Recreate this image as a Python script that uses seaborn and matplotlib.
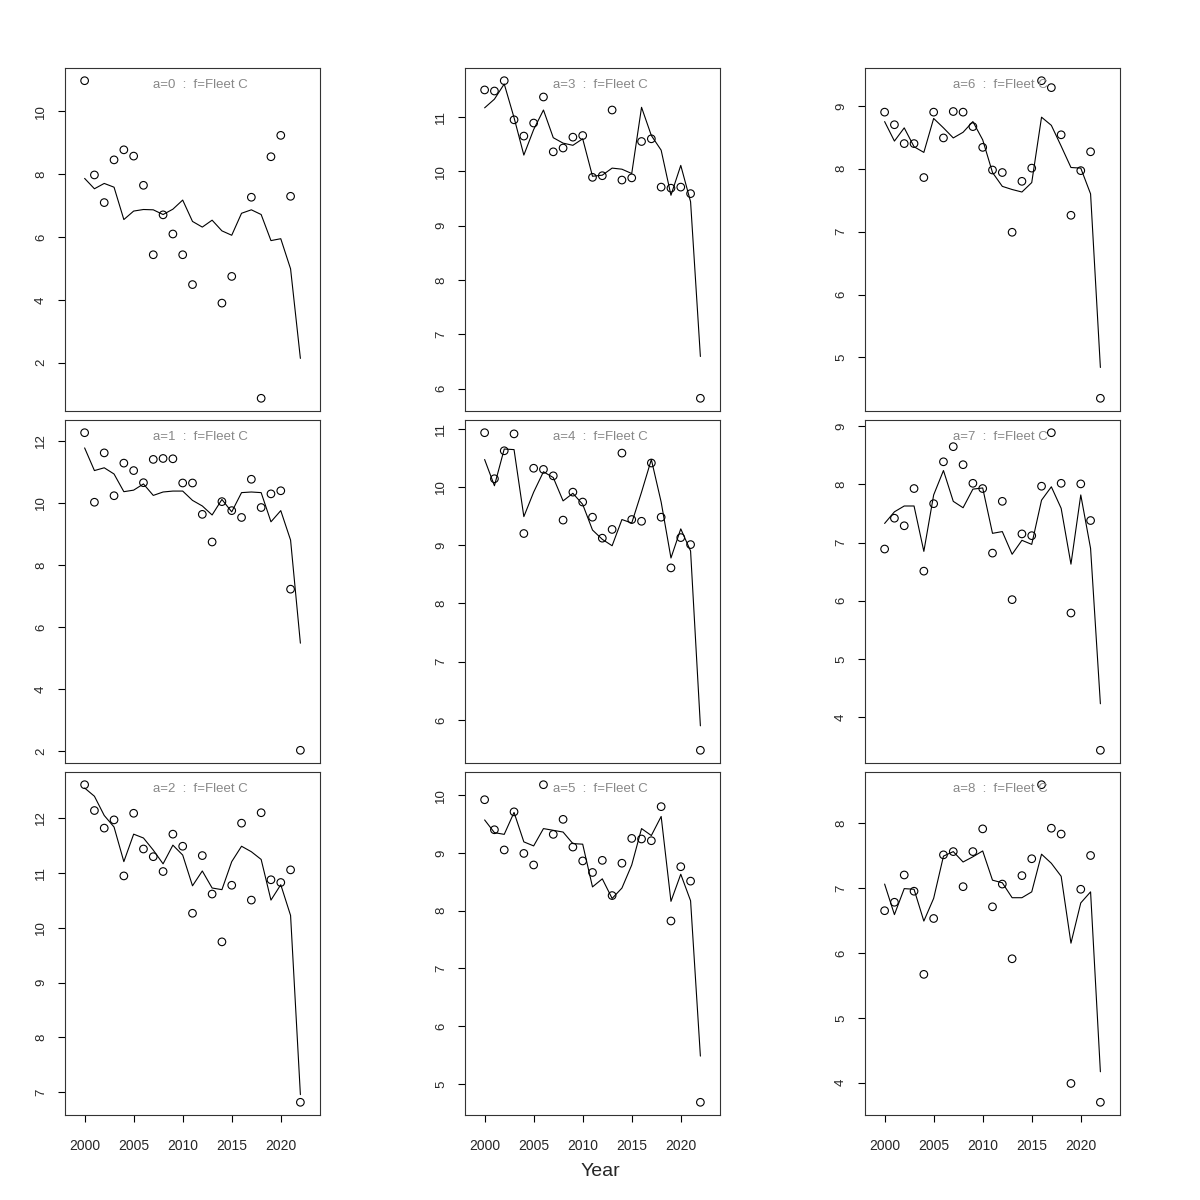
import numpy as np
import pandas as pd
import matplotlib
matplotlib.use("Agg")
import matplotlib.pyplot as plt
import seaborn as sns

sns.set_style("white")
plt.rcParams['font.family'] = ['Liberation Sans', 'DejaVu Sans']

years = list(range(2000, 2023))
nan = np.nan

obs_a0 = [10.98, 7.98, 7.10, 8.46, 8.78, 8.58, 7.65, 5.44, 6.71, 6.10, 5.44, 4.49, nan, nan,
          3.90, 4.75, nan, 7.27, 0.87, 8.56, 9.24, 7.30, nan]
fit_a0 = [7.87, 7.54, 7.71, 7.59, 6.56, 6.83, 6.88, 6.87, 6.72, 6.89, 7.18, 6.50, 6.32, 6.54,
          6.20, 6.06, 6.76, 6.87, 6.72, 5.89, 5.95, 4.99, 2.14]

obs_a1 = [12.26, 10.02, 11.61, 10.23, 11.28, 11.04, 10.65, 11.40, 11.43, 11.42, 10.64, 10.64,
          9.63, 8.74, 10.04, 9.75, 9.53, 10.76, 9.85, 10.29, 10.39, 7.22, 2.03]
fit_a1 = [11.77, 11.04, 11.13, 10.93, 10.36, 10.41, 10.61, 10.24, 10.35, 10.38, 10.38, 10.08,
          9.90, 9.61, 10.11, 9.71, 10.33, 10.35, 10.33, 9.39, 9.75, 8.80, 5.48]

obs_a2 = [12.60, 12.13, 11.81, 11.96, 10.94, 12.08, 11.43, 11.29, 11.02, 11.70, 11.48, 10.26,
          11.31, 10.61, 9.74, 10.77, 11.90, 10.50, 12.09, 10.87, 10.82, 11.05, 6.82]
fit_a2 = [12.54, 12.39, 12.04, 11.83, 11.20, 11.70, 11.63, 11.41, 11.16, 11.50, 11.32, 10.76,
          11.03, 10.72, 10.69, 11.20, 11.48, 11.38, 11.24, 10.50, 10.78, 10.22, 6.96]

obs_a3 = [11.50, 11.48, 11.67, 10.95, 10.65, 10.89, 11.37, 10.36, 10.43, 10.63, 10.66, 9.89,
          9.92, 11.13, 9.84, 9.88, 10.55, 10.60, 9.71, 9.69, 9.71, 9.59, 5.82]
fit_a3 = [11.17, 11.33, 11.61, 10.99, 10.30, 10.77, 11.13, 10.62, 10.52, 10.48, 10.60, 9.91,
          9.93, 10.06, 10.04, 9.96, 11.18, 10.66, 10.39, 9.56, 10.11, 9.44, 6.59]

obs_a4 = [10.93, 10.14, 10.62, 10.91, 9.20, 10.32, 10.30, 10.19, 9.43, 9.91, 9.74, 9.48,
          9.12, 9.27, 10.58, 9.44, 9.41, 10.41, 9.48, 8.61, 9.13, 9.01, 5.48]
fit_a4 = [10.47, 10.02, 10.65, 10.64, 9.49, 9.91, 10.26, 10.16, 9.76, 9.89, 9.70, 9.26,
          9.10, 8.99, 9.44, 9.38, 9.91, 10.47, 9.74, 8.78, 9.28, 8.90, 5.90]

obs_a5 = [9.92, 9.40, 9.05, 9.71, 8.99, 8.79, 10.18, 9.32, 9.58, 9.10, 8.86, 8.66,
          8.87, 8.26, 8.82, 9.25, 9.24, 9.21, 9.80, 7.82, 8.76, 8.51, 4.68]
fit_a5 = [9.57, 9.35, 9.32, 9.70, 9.19, 9.12, 9.42, 9.39, 9.36, 9.16, 9.15, 8.41,
          8.55, 8.21, 8.39, 8.79, 9.42, 9.30, 9.63, 8.16, 8.63, 8.17, 5.48]

obs_a6 = [8.90, 8.70, 8.40, 8.40, 7.86, 8.90, 8.49, 8.91, 8.90, 8.67, 8.34, 7.98,
          7.94, 6.99, 7.80, 8.01, 9.40, 9.29, 8.54, 7.26, 7.97, 8.27, 4.35]
fit_a6 = [8.75, 8.44, 8.65, 8.35, 8.26, 8.80, 8.65, 8.49, 8.58, 8.75, 8.46, 7.94,
          7.72, 7.67, 7.63, 7.78, 8.82, 8.69, 8.36, 8.02, 8.01, 7.60, 4.84]

obs_a7 = [6.89, 7.42, 7.29, 7.93, 6.51, 7.67, 8.39, 8.65, 8.34, 8.02, 7.93, 6.82,
          7.71, 6.02, 7.15, 7.12, 7.97, 8.89, 8.02, 5.79, 8.01, 7.38, 3.43]
fit_a7 = [7.33, 7.53, 7.63, 7.63, 6.85, 7.82, 8.24, 7.71, 7.60, 7.92, 7.94, 7.16,
          7.19, 6.80, 7.04, 6.97, 7.73, 7.96, 7.59, 6.63, 7.82, 6.90, 4.23]

obs_a8 = [6.65, 6.78, 7.20, 6.95, 5.67, 6.53, 7.51, 7.56, 7.02, 7.56, 7.91, 6.71,
          7.06, 5.91, 7.19, 7.45, 8.59, 7.92, 7.83, 3.99, 6.98, 7.50, 3.70]
fit_a8 = [7.06, 6.59, 6.99, 6.98, 6.49, 6.84, 7.49, 7.56, 7.40, 7.48, 7.57, 7.12,
          7.08, 6.85, 6.85, 6.94, 7.52, 7.38, 7.18, 6.15, 6.77, 6.94, 4.17]

ages = [0, 1, 2, 3, 4, 5, 6, 7, 8]
fleet = "Fleet C"
obs_all = [obs_a0, obs_a1, obs_a2, obs_a3, obs_a4, obs_a5, obs_a6, obs_a7, obs_a8]
fit_all = [fit_a0, fit_a1, fit_a2, fit_a3, fit_a4, fit_a5, fit_a6, fit_a7, fit_a8]

yticks_all = [
    [2, 4, 6, 8, 10],
    [2, 4, 6, 8, 10, 12],
    [7, 8, 9, 10, 11, 12],
    [6, 7, 8, 9, 10, 11],
    [6, 7, 8, 9, 10, 11],
    [5, 6, 7, 8, 9, 10],
    [5, 6, 7, 8, 9],
    [4, 5, 6, 7, 8, 9],
    [4, 5, 6, 7, 8],
]
xticks = [2000, 2005, 2010, 2015, 2020]

fig = plt.figure(figsize=(12, 12), dpi=100)

col_left = [65 / 1200, 465 / 1200, 865 / 1200]
row_top = [68, 420, 772]
pw = 255 / 1200
ph = 343 / 1200

for i, age in enumerate(ages):
    col = i // 3
    row = i % 3
    left = col_left[col]
    bottom = 1 - (row_top[row] + 343) / 1200
    ax = fig.add_axes([left, bottom, pw, ph])
    df = pd.DataFrame({"year": years, "obs": obs_all[i], "fit": fit_all[i]})
    sns.lineplot(data=df, x="year", y="fit", ax=ax, color="black", linewidth=0.8,
                 estimator=None)
    sns.scatterplot(data=df.dropna(subset=["obs"]), x="year", y="obs", ax=ax,
                    marker="o", s=30, facecolor="none", edgecolor="black",
                    linewidth=0.8, zorder=3)
    vals = np.concatenate([np.array(obs_all[i], dtype=float), np.array(fit_all[i], dtype=float)])
    lo, hi = np.nanmin(vals), np.nanmax(vals)
    pad = 0.04 * (hi - lo)
    ax.set_ylim(lo - pad, hi + pad)
    ax.set_xlim(1998, 2024)
    ax.set_xlabel("")
    ax.set_ylabel("")
    ax.set_yticks(yticks_all[i])
    ax.set_yticklabels([str(t) for t in yticks_all[i]], rotation=90, va="center",
                       fontsize=9.5)
    ax.tick_params(axis="y", direction="out", length=5, width=0.8, left=True,
                   color="black", pad=8)
    if row == 2:
        ax.set_xticks(xticks)
        ax.set_xticklabels([str(t) for t in xticks], fontsize=10)
        ax.tick_params(axis="x", direction="out", length=5, width=0.8, bottom=True,
                       color="black", pad=12)
    else:
        ax.set_xticks([])
    for sp in ax.spines.values():
        sp.set_visible(True)
        sp.set_color("#333333")
        sp.set_linewidth(0.8)
    ax.text(0.53, 0.95, f"a={age}  :  f={fleet}", transform=ax.transAxes,
            ha="center", va="center", fontsize=9.5, color="#888888")

fig.text(600 / 1200, 1 - 1171 / 1200, "Year", ha="center", va="center", fontsize=14)

fig.savefig("out.png", dpi=100, facecolor="white")
